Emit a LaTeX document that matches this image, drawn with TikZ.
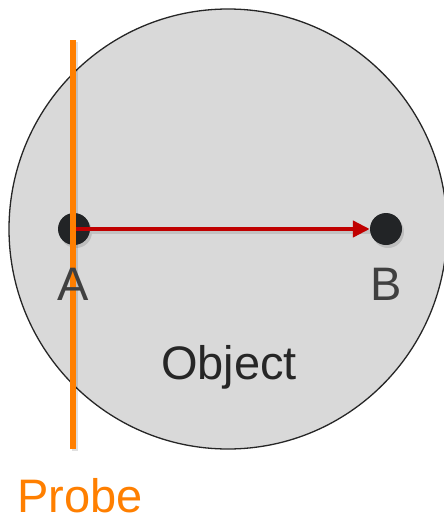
\documentclass[tikz,border=0pt]{standalone}
\usepackage{fontspec}
\setmainfont{Liberation Sans}
\usetikzlibrary{arrows.meta,shapes.geometric}
\definecolor{objfill}{HTML}{D9D9D9}
\definecolor{probecol}{HTML}{FF7F00}
\definecolor{arrowred}{HTML}{C00000}
\definecolor{dotcol}{HTML}{222426}
\definecolor{lblgray}{HTML}{404040}
\definecolor{objtext}{HTML}{262626}
\tikzset{
  dotnode/.style={circle, fill=dotcol, inner sep=0pt, minimum size=32pt},
  lbl/.style={font=\fontsize{47}{47}\selectfont, inner sep=0pt, anchor=base},
  shadowline/.style={line width=6pt, black, opacity=0.12},
}
\begin{document}
\begin{tikzpicture}[x=1pt,y=-1pt]
\useasboundingbox (0,0) rectangle (444,522);
\begin{scope}
\clip (0,0) rectangle (444,522);
\node[ellipse, draw=black!85, line width=1.3pt, fill=objfill, minimum width=438pt, minimum height=440pt, inner sep=0pt] (obj) at (228,229) {};
\end{scope}
% shadows
\fill[black, opacity=0.12] (76,232) circle (16);
\fill[black, opacity=0.12] (388,232) circle (16);
\draw[shadowline] (75,42) -- (75,451);
\draw[line width=4.5pt, black, opacity=0.1] (92,232) -- (372,232);
% dots
\node[dotnode] (A) at (74,229) {};
\node[dotnode] (B) at (386,229) {};
% arrow
\draw[arrowred, line width=4.5pt, -{Triangle[length=17pt, width=16pt]}] (A.center) -- (B.west);
% probe
\coordinate (ptop) at (72.5,40);
\coordinate (pbot) at (72.5,449);
\draw[probecol, line width=6pt] (ptop) -- (pbot);
% labels
\node[lbl, text=lblgray] (la) at (73.5,300) {A};
\node[lbl, text=lblgray] (lb) at (386,300) {B};
\node[lbl, text=objtext] (lo) at (229,379) {Object};
\node[lbl, text=probecol] (lp) at (80,512) {Probe};
\end{tikzpicture}
\end{document}
